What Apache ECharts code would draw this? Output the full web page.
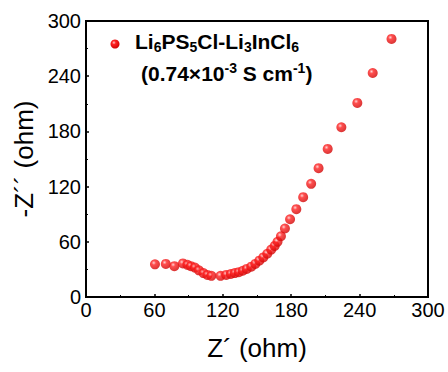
<!DOCTYPE html>
<html>
<head>
<meta charset="utf-8">
<style>
  html, body { margin: 0; padding: 0; background: #fff; }
  #chart { width: 448px; height: 372px; }
</style>
<script src="https://cdn.jsdelivr.net/npm/echarts@6/dist/echarts.min.js"></script>
</head>
<body>
<div id="chart"></div>
<script>
// Nyquist plot: real part Z' vs negative imaginary part -Z''
var zReal = [60.5, 70, 77.5, 85, 89, 92, 95.5, 99, 103, 106.5, 110, 118, 123, 127, 130.5, 134, 137.5, 141, 145, 148.5, 152, 155.5, 159, 162.5, 165.5, 168, 171, 174.5, 179, 184.5, 190.5, 197.5, 204, 212, 224, 238, 251.5, 268];
var zImag = [35.5, 36, 33.5, 36.5, 35, 33.5, 32, 29, 26, 24, 23, 23, 24, 25, 26, 27, 28.5, 30.5, 33, 36, 39.5, 43, 47, 51.5, 55.5, 60, 66, 74.5, 84.5, 95.5, 108.5, 123, 140, 161, 184.5, 211, 243.5, 280.5];
var xTicks = [0, 60, 120, 180, 240, 300];
var yTicks = [0, 60, 120, 180, 240, 300];

var red = '#ec1c24';
var sphere = {
  type: 'radial', x: 0.38, y: 0.35, r: 0.7,
  colorStops: [
    { offset: 0, color: '#ffcaca' },
    { offset: 0.3, color: '#ff2222' },
    { offset: 1, color: '#cc0000' }
  ]
};

var points = zReal.map(function (x, i) { return [x, zImag[i]]; });

var chart = echarts.init(document.getElementById('chart'), null, { renderer: 'svg' });
var axisFont = 'Liberation Sans, Arial, sans-serif';

function makeAxis(ticks, name, gap, labelMargin) {
  return {
    type: 'value',
    min: ticks[0],
    max: ticks[ticks.length - 1],
    interval: ticks[1] - ticks[0],
    name: name,
    nameLocation: 'middle',
    nameGap: gap,
    nameTextStyle: { color: '#000', fontSize: 26, fontFamily: axisFont },
    axisLine: { show: true, lineStyle: { color: '#000', width: 2 } },
    axisTick: { show: true, inside: true, length: 3, lineStyle: { color: '#000', width: 1.5 } },
    minorTick: { show: true, splitNumber: 2, length: 2, lineStyle: { color: '#000', width: 1 } },
    splitLine: { show: false },
    axisLabel: { color: '#000', fontSize: 20, fontFamily: axisFont, margin: labelMargin }
  };
}

var legendRich = {
  m: { fontSize: 21, fontWeight: 'bold', color: red, fontFamily: axisFont },
  sub: { fontSize: 14, fontWeight: 'bold', color: red, fontFamily: axisFont, padding: [11, 0, 0, 0] },
  sup: { fontSize: 14, fontWeight: 'bold', color: red, fontFamily: axisFont, padding: [0, 0, 11, 0] }
};

chart.setOption({
  animation: false,
  grid: { left: 86, right: 20, top: 21, bottom: 75, show: true, borderColor: '#000', borderWidth: 2 },
  xAxis: makeAxis(xTicks, 'Z\u00b4 (ohm)', 38, 3),
  yAxis: makeAxis(yTicks, '-Z\u00b4\u00b4 (ohm)', 42, 5),
  series: [{
    type: 'scatter',
    data: points,
    symbol: 'circle',
    symbolSize: 10,
    itemStyle: { color: sphere },
    z: 3
  }],
  graphic: [
    {
      type: 'circle',
      z: 100,
      shape: { cx: 115, cy: 44, r: 4.5 },
      style: { fill: sphere }
    },
    {
      type: 'text',
      z: 100,
      left: 135, top: 31,
      style: {
        text: '{m|Li}{sub|6}{m|PS}{sub|5}{m|Cl-Li}{sub|3}{m|InCl}{sub|6}',
        rich: legendRich
      }
    },
    {
      type: 'text',
      z: 100,
      left: 141, top: 61,
      style: {
        text: '{m|(0.74\u00d710}{sup|-3}{m| S cm}{sup|-1}{m|)}',
        rich: legendRich
      }
    }
  ]
});
</script>
</body>
</html>
